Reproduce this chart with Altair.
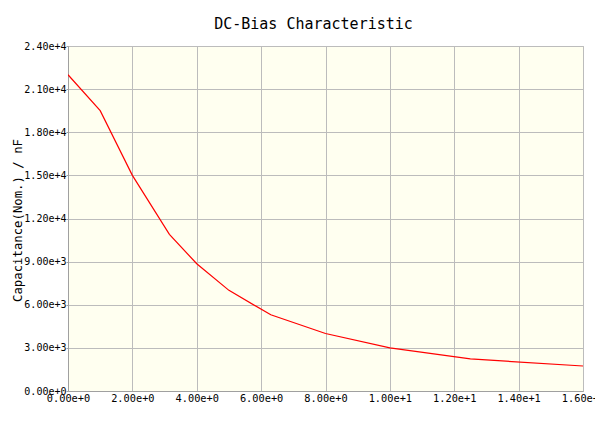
import altair as alt
import pandas as pd

bias_v = [0, 1, 2, 3.15, 4, 5, 6.3, 8, 10, 12.5, 16]
cap_nf = [22000, 19500, 15000, 10900, 8850, 7000, 5300, 4000, 3000, 2230, 1740]
x_ticks = [0, 2, 4, 6, 8, 10, 12, 14, 16]
y_ticks = [0, 3000, 6000, 9000, 12000, 15000, 18000, 21000, 24000]

df = pd.DataFrame({"bias": bias_v, "cap": cap_nf})

FONT = "DejaVu Sans Mono"
GRID = "#bcbcbc"

chart = alt.Chart(df).mark_line(color="#ff0000", strokeWidth=1.2, clip=True).encode(
    x=alt.X("bias:Q", title="DC-Bias / V",
            scale=alt.Scale(domain=[0, 16], nice=False, zero=False),
            axis=alt.Axis(values=x_ticks, format=".2e", labelOverlap=False,
                          labelFlush=False, labelBound=False,
                          ticks=False, labelPadding=2, labelFontSize=10.3,
                          labelFont=FONT, labelColor="#000000",
                          titleFont=FONT, titleFontSize=12.3, titleFontWeight="normal",
                          titleColor="#000000", titleY=375, titleBaseline="alphabetic",
                          grid=True, gridColor=GRID,
                          domainColor="#a0a0a0")),
    y=alt.Y("cap:Q", title="Capacitance(Nom.) / nF",
            scale=alt.Scale(domain=[0, 24000], nice=False),
            axis=alt.Axis(values=y_ticks, format=".2e", labelOverlap=False,
                          labelFlush=False, labelBound=False,
                          tickSize=2, tickColor="#a0a0a0", labelPadding=0,
                          labelFontSize=10, labelFont=FONT, labelColor="#000000",
                          titleFont=FONT, titleFontSize=12.3, titleFontWeight="normal",
                          titleColor="#000000", titleX=-51, titleY=174,
                          titleBaseline="middle",
                          grid=True, gridColor=GRID,
                          domainColor="#a0a0a0")),
).properties(
    width=515,
    height=345,
    title=alt.TitleParams("DC-Bias Characteristic", font=FONT, fontSize=15,
                          fontWeight="normal", color="#000000", dx=-12, offset=9),
    autosize=alt.AutoSizeParams(type="none"),
    padding={"left": 60, "top": 38, "right": 12, "bottom": 34},
    background="#ffffff",
).configure_view(
    fill="#fffff0",
    stroke=GRID,
)

chart.save("out.html", embed_options={"renderer": "svg", "actions": False})
